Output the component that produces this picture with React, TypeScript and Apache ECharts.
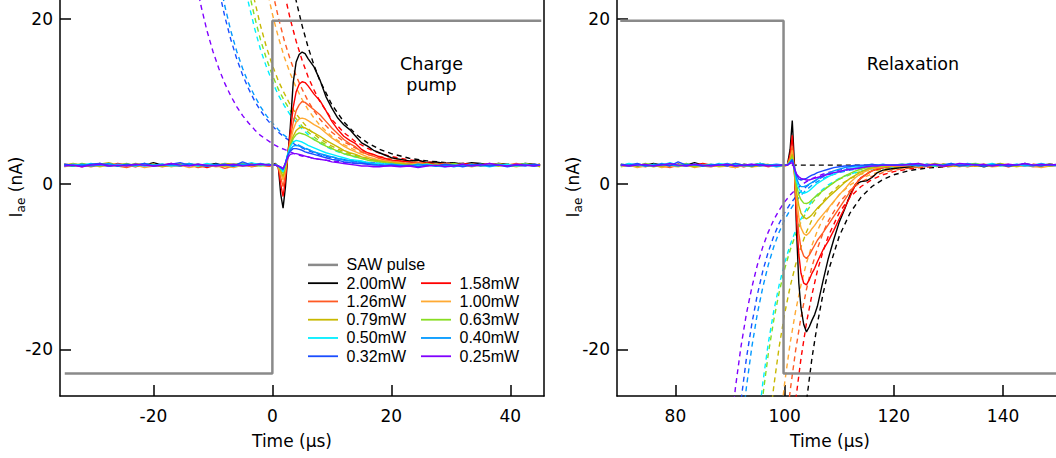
import React, { useEffect, useRef } from 'react';
import * as echarts from 'echarts';

const FONT_AXIS = "'DejaVu Sans', sans-serif";
const FONT_LEGEND = "'Liberation Sans', Arial, sans-serif";

const powers = ['2.00mW', '1.58mW', '1.26mW', '1.00mW', '0.79mW', '0.63mW', '0.50mW', '0.40mW', '0.32mW', '0.25mW'];
const colors = ['#000000', '#ff0000', '#ff5a24', '#ffaa33', '#c8b800', '#88dd22', '#00eeff', '#0099ff', '#1a4dff', '#8000ff'];

const pumpTicks = [-20, 0, 20, 40];
const relaxTicks = [80, 100, 120, 140];
const yTicks = [-20, 0, 20];

// ---------- Charge pump panel: measured traces ----------
const tPump = [
  -35, -33.5, -32, -30.5, -29, -27.5, -26, -24.5, -23, -21.5, -20, -18.5, -17, -15.5, -14, -12.5, -11, -9.5, -8, -6.5, -5, -3.5, -2, -0.5,
  0, 0.5, 1, 1.4, 1.8, 2.2, 2.6, 3, 3.5, 4, 4.5, 5, 5.5, 6, 7, 8, 9, 10, 11, 12, 13, 14, 15, 16, 17, 18, 19, 20,
  21.5, 23, 24.5, 26, 27.5, 29, 30.5, 32, 33.5, 35, 36.5, 38, 39.5, 41, 42.5, 44, 45,
];
const pump200 = [
  2.3, 2.2, 2.4, 2.3, 2.5, 2.2, 2.3, 2.4, 2.2, 2.3, 2.6, 2.3, 2.2, 2.4, 2.3, 2.1, 2.3, 2.5, 2.2, 2.3, 2.4, 2.2, 2.3, 2.4,
  2.3, 2.5, 2.1, -1.2, -2.9, -0.3, 3.5, 6.8, 12.3, 14.8, 15.7, 16.0, 15.8, 15.2, 14.2, 12.6, 10.6, 9.2, 8.0, 7.2, 6.6, 5.8, 5.0, 4.6, 4.1, 3.8, 3.5, 3.2,
  3.0, 2.8, 2.9, 2.6, 2.7, 2.5, 2.6, 2.4, 2.6, 2.5, 2.3, 2.5, 2.4, 2.3, 2.5, 2.4, 2.3,
];
const pump158 = [
  2.4, 2.3, 2.1, 2.4, 2.3, 2.2, 2.5, 2.3, 2.1, 2.4, 2.2, 2.3, 2.5, 2.2, 2.4, 2.3, 2.0, 2.3, 2.4, 2.2, 2.3, 2.5, 2.3, 2.2,
  2.3, 2.4, 2.0, 0.0, -1.5, 0.6, 3.6, 6.2, 9.3, 11.2, 12.1, 12.4, 12.3, 11.9, 10.9, 10.1, 8.9, 7.6, 6.6, 5.8, 5.3, 4.9, 4.2, 3.8, 3.6, 3.3, 3.1, 2.9,
  2.8, 2.7, 2.5, 2.6, 2.4, 2.5, 2.3, 2.5, 2.4, 2.3, 2.5, 2.3, 2.4, 2.2, 2.4, 2.3, 2.4,
];
const pump126 = [
  2.2, 2.4, 2.3, 2.1, 2.3, 2.4, 2.2, 2.0, 2.3, 2.5, 2.3, 2.1, 2.3, 2.2, 2.4, 2.0, 2.2, 2.3, 1.9, 2.2, 2.4, 2.1, 2.3, 2.2,
  2.3, 2.4, 2.1, 0.8, -0.3, 1.2, 3.5, 5.4, 7.5, 8.9, 9.6, 10.0, 9.9, 9.6, 9.0, 8.4, 7.6, 6.8, 6.1, 5.4, 4.9, 4.5, 3.9, 3.6, 3.4, 3.1, 2.9, 2.8,
  2.6, 2.5, 2.6, 2.4, 2.3, 2.5, 2.4, 2.2, 2.4, 2.3, 2.2, 2.4, 2.3, 2.5, 2.3, 2.2, 2.3,
];
const pump100 = [
  2.1, 2.3, 2.2, 2.4, 2.1, 2.3, 2.2, 2.4, 2.3, 2.0, 2.2, 2.4, 2.1, 2.3, 2.0, 2.2, 2.3, 2.1, 2.2, 2.0, 2.3, 2.2, 2.4, 2.3,
  2.3, 2.4, 2.1, 1.3, 0.5, 1.7, 3.6, 5.0, 6.6, 7.5, 7.9, 8.0, 7.9, 7.7, 7.2, 6.8, 6.2, 5.6, 5.1, 4.6, 4.2, 3.9, 3.6, 3.3, 3.1, 2.9, 2.8, 2.7,
  2.6, 2.4, 2.5, 2.3, 2.4, 2.2, 2.4, 2.3, 2.1, 2.3, 2.4, 2.2, 2.3, 2.1, 2.3, 2.4, 2.2,
];
const pump079 = [
  2.3, 2.5, 2.3, 2.2, 2.4, 2.6, 2.3, 2.2, 2.5, 2.3, 2.4, 2.2, 2.3, 2.5, 2.3, 2.4, 2.2, 2.3, 2.5, 2.4, 2.2, 2.3, 2.4, 2.3,
  2.3, 2.4, 2.2, 1.6, 0.9, 2.0, 3.6, 4.7, 5.8, 6.5, 6.8, 6.9, 6.8, 6.6, 6.2, 5.8, 5.3, 4.9, 4.5, 4.1, 3.8, 3.6, 3.3, 3.1, 2.9, 2.8, 2.7, 2.6,
  2.5, 2.4, 2.3, 2.5, 2.3, 2.4, 2.2, 2.3, 2.4, 2.2, 2.3, 2.5, 2.3, 2.2, 2.4, 2.3, 2.1,
];
const pump063 = [
  2.4, 2.2, 2.5, 2.3, 2.2, 2.4, 2.3, 2.5, 2.2, 2.4, 2.3, 2.2, 2.4, 2.3, 2.5, 2.2, 2.4, 2.3, 2.2, 2.4, 2.5, 2.3, 2.2, 2.3,
  2.4, 2.3, 2.2, 1.8, 1.3, 2.3, 3.7, 4.6, 5.5, 6.0, 6.2, 6.1, 6.0, 5.8, 5.4, 5.0, 4.6, 4.3, 4.0, 3.7, 3.5, 3.3, 3.1, 2.9, 2.8, 2.7, 2.6, 2.5,
  2.4, 2.3, 2.4, 2.2, 2.4, 2.3, 2.5, 2.3, 2.2, 2.4, 2.3, 2.2, 2.4, 2.3, 2.5, 2.3, 2.4,
];
const pump050 = [
  2.2, 2.4, 2.3, 2.5, 2.3, 2.2, 2.4, 2.3, 2.2, 2.5, 2.3, 2.4, 2.2, 2.3, 2.4, 2.2, 2.5, 2.3, 2.4, 2.2, 2.3, 2.6, 2.3, 2.4,
  2.3, 2.4, 2.2, 1.9, 1.5, 2.5, 3.7, 4.5, 5.1, 5.3, 5.2, 5.1, 4.9, 4.7, 4.4, 4.1, 3.8, 3.6, 3.4, 3.2, 3.0, 2.9, 2.8, 2.6, 2.5, 2.5, 2.4, 2.4,
  2.3, 2.2, 2.3, 2.4, 2.2, 2.1, 2.3, 2.4, 2.2, 2.3, 2.1, 2.3, 2.4, 2.2, 2.3, 2.2, 2.3,
];
const pump040 = [
  2.3, 2.2, 2.4, 2.2, 2.3, 2.5, 2.2, 2.3, 2.4, 2.2, 2.3, 2.4, 2.3, 2.2, 2.5, 2.3, 2.2, 2.4, 2.3, 2.2, 2.4, 2.3, 2.5, 2.3,
  2.3, 2.3, 2.2, 2.0, 1.7, 2.6, 3.6, 4.2, 4.6, 4.7, 4.6, 4.5, 4.3, 4.2, 3.9, 3.7, 3.5, 3.3, 3.1, 2.9, 2.8, 2.7, 2.6, 2.5, 2.4, 2.3, 2.3, 2.4,
  2.3, 2.2, 2.4, 2.3, 2.2, 2.3, 2.1, 2.3, 2.4, 2.2, 2.3, 2.4, 2.2, 2.3, 2.4, 2.2, 2.3,
];
const pump032 = [
  2.4, 2.3, 2.2, 2.4, 2.5, 2.3, 2.2, 2.4, 2.3, 2.5, 2.2, 2.3, 2.4, 2.6, 2.3, 2.4, 2.2, 2.3, 2.4, 2.2, 2.7, 2.3, 2.4, 2.3,
  2.4, 2.3, 2.2, 2.0, 1.8, 2.6, 3.5, 4.0, 4.3, 4.3, 4.2, 4.1, 3.9, 3.8, 3.6, 3.4, 3.2, 3.0, 2.9, 2.7, 2.6, 2.5, 2.5, 2.4, 2.3, 2.3, 2.2, 2.3,
  2.2, 2.3, 2.1, 2.3, 2.2, 2.4, 2.3, 2.1, 2.3, 2.4, 2.2, 2.3, 2.1, 2.3, 2.2, 2.4, 2.3,
];
const pump025 = [
  2.2, 2.3, 2.1, 2.3, 2.4, 2.2, 2.3, 2.2, 2.4, 2.3, 2.2, 2.3, 2.5, 2.3, 2.2, 2.4, 2.3, 2.2, 2.3, 2.4, 2.2, 2.3, 2.4, 2.3,
  2.3, 2.3, 2.2, 2.1, 1.9, 2.5, 3.2, 3.6, 3.7, 3.7, 3.6, 3.5, 3.4, 3.3, 3.1, 3.0, 2.9, 2.7, 2.6, 2.5, 2.4, 2.3, 2.2, 2.2, 2.1, 2.1, 2.2, 2.2,
  2.1, 2.2, 2.0, 2.2, 2.3, 2.1, 2.2, 2.4, 2.2, 2.3, 2.5, 2.3, 2.2, 2.4, 2.3, 2.2, 2.3,
];

// ---------- Charge pump panel: fits (dashed) ----------
const tPumpFit = [-14, -13, -12, -11, -10, -9, -8, -7, -6, -5, -4, -3, -2, -1, 0, 1, 2, 3, 4, 5, 6, 7, 8, 10, 12, 14, 16, 18, 20, 23, 26, 30, 35, 40, 45];
const pumpFit200 = [null, null, null, null, null, null, null, null, null, null, null, null, null, null, null, null, 30.1, 25.8, 22.2, 19.2, 16.6, 14.4, 12.5, 9.63, 7.55, 6.06, 5.0, 4.23, 3.69, 3.14, 2.81, 2.56, 2.41, 2.35, 2.32];
const pumpFit158 = [null, null, null, null, null, null, null, null, null, null, null, null, null, null, 31.5, 27.0, 23.2, 20.0, 17.3, 15.0, 13.0, 11.4, 10.0, 7.82, 6.25, 5.13, 4.33, 3.75, 3.34, 2.93, 2.68, 2.5, 2.38, 2.34, 2.32];
const pumpFit126 = [null, null, null, null, null, null, null, null, null, null, null, null, 31.8, 27.2, 23.4, 20.2, 17.4, 15.1, 13.1, 11.5, 10.06, 8.87, 7.86, 6.29, 5.15, 4.35, 3.77, 3.35, 3.05, 2.76, 2.58, 2.44, 2.36, 2.33, 2.31];
const pumpFit100 = [null, null, null, null, null, null, null, null, null, null, null, 32.5, 27.8, 23.9, 20.6, 17.8, 15.4, 13.4, 11.7, 10.25, 9.03, 8.0, 7.12, 5.76, 4.78, 4.08, 3.57, 3.21, 2.95, 2.7, 2.54, 2.42, 2.35, 2.32, 2.31];
const pumpFit079 = [null, null, null, null, null, null, null, null, null, 30.1, 25.9, 22.25, 19.2, 16.6, 14.4, 12.5, 11.0, 9.6, 8.5, 7.6, 6.75, 6.07, 5.49, 4.59, 3.94, 3.47, 3.14, 2.9, 2.73, 2.56, 2.46, 2.38, 2.34, 2.32, 2.31];
const pumpFit063 = [null, null, null, null, null, null, null, null, 31.9, 27.4, 23.5, 20.3, 17.5, 15.2, 13.2, 11.5, 10.1, 8.9, 7.9, 7.0, 6.3, 5.7, 5.2, 4.36, 3.77, 3.36, 3.06, 2.84, 2.69, 2.54, 2.44, 2.37, 2.33, 2.31, 2.31];
const pumpFit050 = [null, null, null, null, null, null, null, null, 29.6, 25.4, 21.9, 18.9, 16.3, 14.2, 12.4, 10.8, 9.5, 8.4, 7.5, 6.7, 6.0, 5.4, 4.95, 4.2, 3.66, 3.28, 3.0, 2.8, 2.66, 2.52, 2.43, 2.37, 2.33, 2.31, 2.31];
const pumpFit040 = [null, null, null, null, 29.2, 25.1, 21.6, 18.6, 16.1, 14.0, 12.2, 10.7, 9.4, 8.3, 7.4, 6.6, 5.9, 5.4, 4.9, 4.5, 4.2, 3.9, 3.6, 3.3, 3.0, 2.8, 2.65, 2.55, 2.48, 2.41, 2.37, 2.33, 2.31, 2.3, 2.3];
const pumpFit032 = [null, null, null, null, 27.4, 23.6, 20.3, 17.55, 15.2, 13.2, 11.55, 10.1, 8.9, 7.9, 7.05, 6.3, 5.7, 5.2, 4.7, 4.4, 4.05, 3.8, 3.55, 3.2, 2.95, 2.76, 2.63, 2.54, 2.47, 2.4, 2.36, 2.33, 2.31, 2.3, 2.3];
const pumpFit025 = [29.2, 25.1, 21.6, 18.6, 16.1, 14.0, 12.2, 10.7, 9.4, 8.3, 7.4, 6.6, 5.9, 5.4, 4.9, 4.5, 4.2, 3.9, 3.6, 3.4, 3.3, 3.1, 3.0, 2.8, 2.65, 2.55, 2.48, 2.43, 2.39, 2.36, 2.33, 2.32, 2.31, 2.3, 2.3];

// ---------- Relaxation panel: measured traces ----------
const tRelax = [
  70, 71.5, 73, 74.5, 76, 77.5, 79, 80.5, 82, 83.5, 85, 86.5, 88, 89.5, 91, 92.5, 94, 95.5, 97, 98.5, 100,
  100.5, 101, 101.4, 101.8, 102.2, 102.6, 103, 103.5, 104, 104.5, 105, 105.5, 106, 107, 108, 109, 110, 111, 112, 113, 114, 115, 116, 117, 118, 119, 120,
  121.5, 123, 124.5, 126, 127.5, 129, 130.5, 132, 133.5, 135, 136.5, 138, 139.5, 141, 142.5, 144, 145.5, 147, 148.5, 150,
];
const relax200 = [
  2.3, 2.4, 2.2, 2.3, 2.5, 2.3, 2.2, 2.4, 2.3, 2.6, 2.3, 2.2, 2.4, 2.3, 2.2, 2.4, 2.3, 2.5, 2.3, 2.2, 2.3,
  2.3, 4.2, 7.7, 2.4, -6.0, -12.0, -15.0, -17.0, -17.9, -17.3, -16.5, -15.8, -14.8, -11.8, -9.0, -6.7, -4.6, -3.0, -1.3, 0.0, 0.3, 0.4, 0.8, 1.4, 1.7, 1.8, 1.9,
  2.0, 2.1, 2.2, 2.3, 2.2, 2.4, 2.3, 2.2, 2.4, 2.3, 2.1, 2.3, 2.4, 2.2, 2.3, 2.4, 2.2, 2.3, 2.4, 2.3,
];
const relax158 = [
  2.2, 2.3, 2.4, 2.2, 2.3, 2.1, 2.3, 2.4, 2.2, 2.3, 2.5, 2.3, 2.2, 2.4, 2.3, 2.1, 2.3, 2.4, 2.2, 2.3, 2.3,
  2.3, 3.6, 5.9, 1.5, -4.5, -8.5, -10.8, -12.0, -12.2, -11.6, -10.8, -10.2, -9.4, -8.0, -6.9, -5.6, -4.2, -2.9, -1.5, 0.0, 0.8, 1.2, 1.6, 1.8, 2.0, 2.1, 2.2,
  2.2, 2.3, 2.2, 2.4, 2.3, 2.1, 2.3, 2.4, 2.2, 2.3, 2.2, 2.4, 2.3, 2.1, 2.3, 2.2, 2.4, 2.3, 2.2, 2.3,
];
const relax126 = [
  2.4, 2.2, 2.3, 2.1, 2.4, 2.2, 2.0, 2.3, 2.2, 2.4, 2.2, 2.1, 2.3, 2.2, 2.0, 2.3, 2.2, 2.4, 2.1, 2.3, 2.2,
  2.3, 3.2, 4.6, 1.3, -3.0, -6.0, -7.8, -8.7, -9.0, -8.6, -8.0, -7.4, -6.8, -5.9, -4.9, -3.9, -2.9, -1.9, -0.9, 0.0, 0.7, 1.2, 1.6, 1.9, 2.0, 2.1, 2.2,
  2.3, 2.2, 2.4, 2.2, 2.3, 2.4, 2.2, 2.3, 2.1, 2.3, 2.4, 2.2, 2.3, 2.4, 2.2, 2.3, 2.1, 2.2, 2.4, 2.3,
];
const relax100 = [
  2.1, 2.3, 2.0, 2.2, 2.3, 2.0, 2.2, 2.1, 2.3, 2.0, 2.2, 2.3, 2.1, 2.2, 2.0, 2.3, 2.1, 2.2, 2.3, 2.1, 2.2,
  2.3, 3.0, 4.1, 1.4, -1.8, -4.0, -5.3, -6.0, -6.2, -5.9, -5.4, -5.0, -4.5, -3.7, -2.9, -2.1, -1.3, -0.6, 0.2, 0.8, 1.3, 1.6, 1.9, 2.0, 2.1, 2.2, 2.2,
  2.2, 2.3, 2.1, 2.3, 2.2, 2.4, 2.3, 2.1, 2.3, 2.2, 2.3, 2.1, 2.2, 2.3, 2.1, 2.3, 2.2, 2.0, 2.2, 2.3,
];
const relax079 = [
  2.3, 2.2, 2.4, 2.3, 2.1, 2.3, 2.4, 2.2, 2.3, 2.1, 2.4, 2.2, 2.3, 2.4, 2.2, 2.3, 2.1, 2.3, 2.4, 2.2, 2.3,
  2.3, 2.9, 3.6, 1.4, -1.0, -2.6, -3.5, -4.0, -4.2, -4.0, -3.7, -3.3, -2.9, -2.3, -1.6, -1.0, -0.4, 0.2, 0.7, 1.1, 1.5, 1.8, 2.0, 2.1, 2.2, 2.2, 2.3,
  2.3, 2.4, 2.2, 2.3, 2.5, 2.3, 2.2, 2.4, 2.3, 2.2, 2.4, 2.3, 2.5, 2.3, 2.2, 2.4, 2.3, 2.2, 2.4, 2.3,
];
const relax063 = [
  2.4, 2.3, 2.2, 2.5, 2.3, 2.2, 2.4, 2.3, 2.5, 2.2, 2.3, 2.4, 2.2, 2.3, 2.5, 2.3, 2.2, 2.4, 2.3, 2.2, 2.3,
  2.3, 2.8, 3.3, 1.6, -0.2, -1.3, -1.9, -2.3, -2.35, -2.2, -1.9, -1.6, -1.3, -0.8, -0.3, 0.2, 0.6, 1.0, 1.3, 1.6, 1.8, 2.0, 2.1, 2.2, 2.2, 2.3, 2.3,
  2.4, 2.3, 2.5, 2.3, 2.2, 2.4, 2.3, 2.2, 2.4, 2.5, 2.3, 2.2, 2.4, 2.3, 2.2, 2.5, 2.3, 2.4, 2.2, 2.3,
];
const relax050 = [
  2.2, 2.5, 2.3, 2.2, 2.4, 2.3, 2.6, 2.3, 2.2, 2.4, 2.3, 2.2, 2.5, 2.3, 2.4, 2.2, 2.3, 2.5, 2.3, 2.1, 2.3,
  2.3, 2.7, 3.0, 1.7, 0.3, -0.5, -1.0, -1.1, -1.0, -0.8, -0.5, -0.2, 0.1, 0.5, 0.9, 1.2, 1.5, 1.7, 1.9, 2.0, 2.1, 2.2, 2.2, 2.3, 2.3, 2.3, 2.3,
  2.3, 2.5, 2.3, 2.4, 2.2, 2.3, 2.5, 2.3, 2.2, 2.4, 2.3, 2.5, 2.2, 2.3, 2.4, 2.2, 2.3, 2.5, 2.3, 2.4,
];
const relax040 = [
  2.3, 2.2, 2.4, 2.3, 2.2, 2.5, 2.3, 2.2, 2.4, 2.3, 2.2, 2.4, 2.3, 2.5, 2.2, 2.3, 2.4, 2.2, 2.3, 2.4, 2.3,
  2.3, 2.6, 2.9, 1.8, 0.7, 0.0, -0.3, -0.3, -0.2, 0.0, 0.2, 0.4, 0.6, 1.0, 1.3, 1.6, 1.8, 2.0, 2.1, 2.2, 2.2, 2.3, 2.3, 2.3, 2.4, 2.3, 2.3,
  2.4, 2.3, 2.2, 2.4, 2.3, 2.2, 2.4, 2.3, 2.5, 2.3, 2.2, 2.4, 2.3, 2.2, 2.4, 2.3, 2.2, 2.4, 2.3, 2.2,
];
const relax032 = [
  2.4, 2.3, 2.5, 2.2, 2.3, 2.4, 2.2, 2.7, 2.3, 2.4, 2.2, 2.3, 2.4, 2.2, 2.5, 2.3, 2.2, 2.4, 2.3, 2.2, 2.3,
  2.3, 2.6, 3.0, 2.0, 1.1, 0.6, 0.5, 0.6, 0.7, 0.9, 1.1, 1.2, 1.4, 1.6, 1.8, 2.0, 2.1, 2.2, 2.2, 2.3, 2.3, 2.3, 2.4, 2.3, 2.3, 2.3, 2.3,
  2.3, 2.4, 2.3, 2.2, 2.4, 2.3, 2.5, 2.2, 2.3, 2.4, 2.2, 2.3, 2.4, 2.2, 2.3, 2.5, 2.3, 2.2, 2.4, 2.3,
];
const relax025 = [
  2.3, 2.2, 2.3, 2.4, 2.2, 2.3, 2.5, 2.3, 2.2, 2.4, 2.3, 2.2, 2.3, 2.4, 2.2, 2.3, 2.4, 2.3, 2.2, 2.3, 2.3,
  2.3, 2.5, 2.6, 1.8, 1.2, 0.9, 0.7, 0.6, 0.5, 0.5, 0.6, 0.7, 0.8, 1.0, 1.2, 1.4, 1.5, 1.7, 1.8, 1.9, 2.0, 2.1, 2.2, 2.2, 2.3, 2.3, 2.3,
  2.3, 2.4, 2.5, 2.3, 2.4, 2.2, 2.3, 2.5, 2.4, 2.3, 2.4, 2.2, 2.3, 2.4, 2.3, 2.5, 2.3, 2.4, 2.3, 2.4,
];

// ---------- Relaxation panel: fits (dashed) ----------
const tRelaxFit = [88, 89, 90, 91, 92, 93, 94, 95, 96, 97, 98, 99, 100, 101, 102, 103, 104, 105, 106, 107, 108, 110, 112, 114, 116, 118, 120, 123, 126, 130, 135, 140, 145, 150];
const relaxFit200 = [null, null, null, null, null, null, null, null, null, null, null, null, null, null, null, -32.6, -26.3, -21.1, -16.9, -13.4, -10.54, -6.31, -3.47, -1.57, -0.29, 0.56, 1.14, 1.66, 1.95, 2.14, 2.24, 2.28, 2.29, 2.3];
const relaxFit158 = [null, null, null, null, null, null, null, null, null, null, null, null, null, -32.6, -26.3, -21.1, -16.8, -13.4, -10.5, -8.2, -6.3, -3.46, -1.56, -0.29, 0.56, 1.14, 1.52, 1.87, 2.07, 2.19, 2.26, 2.29, 2.3, 2.3];
const relaxFit126 = [null, null, null, null, null, null, null, null, null, null, null, null, -31.2, -25.1, -20.2, -16.1, -12.75, -10.0, -7.8, -5.96, -4.46, -2.23, -0.74, 0.26, 0.93, 1.39, 1.69, 1.96, 2.12, 2.22, 2.27, 2.29, 2.3, 2.3];
const relaxFit100 = [null, null, null, null, null, null, null, null, null, null, null, -29.9, -24.1, -19.3, -15.4, -12.2, -9.56, -7.41, -5.65, -4.21, -3.03, -1.27, -0.09, 0.69, 1.22, 1.58, 1.82, 2.03, 2.15, 2.23, 2.28, 2.29, 2.3, 2.3];
const relaxFit079 = [null, null, null, null, null, null, null, null, null, -30.5, -24.55, -19.7, -15.7, -12.44, -9.77, -7.58, -5.79, -4.32, -3.12, -2.14, -1.33, -0.14, 0.67, 1.21, 1.57, 1.81, 1.97, 2.12, 2.2, 2.26, 2.28, 2.29, 2.3, 2.3];
const relaxFit063 = [null, null, null, null, null, null, null, -31.9, -25.7, -20.6, -16.5, -13.1, -10.28, -8.0, -6.13, -4.6, -3.35, -2.33, -1.49, -0.8, -0.24, 0.6, 1.16, 1.54, 1.79, 1.96, 2.07, 2.17, 2.23, 2.27, 2.29, 2.3, 2.3, 2.3];
const relaxFit050 = [null, null, null, null, null, null, null, -29.9, -24.1, -19.3, -15.4, -12.2, -9.55, -7.4, -5.64, -4.2, -3.02, -2.06, -1.27, -0.62, -0.09, 0.7, 1.23, 1.58, 1.82, 1.98, 2.08, 2.18, 2.23, 2.27, 2.29, 2.3, 2.3, 2.3];
const relaxFit040 = [null, null, null, null, -30.5, -24.6, -19.7, -15.7, -12.5, -9.8, -7.6, -5.8, -4.33, -3.13, -2.14, -1.34, -0.68, -0.14, 0.3, 0.66, 0.96, 1.4, 1.7, 1.9, 2.03, 2.12, 2.18, 2.23, 2.26, 2.28, 2.29, 2.3, 2.3, 2.3];
const relaxFit032 = [null, null, null, -32.6, -26.3, -21.1, -16.9, -13.4, -10.54, -8.21, -6.31, -4.75, -3.47, -2.42, -1.57, -0.87, -0.29, 0.18, 0.56, 0.88, 1.14, 1.52, 1.78, 1.95, 2.06, 2.14, 2.19, 2.24, 2.27, 2.29, 2.3, 2.3, 2.3, 2.3];
const relaxFit025 = [null, null, -30.6, -24.6, -19.7, -15.7, -12.5, -9.8, -7.6, -5.81, -4.34, -3.14, -2.15, -1.34, -0.68, -0.14, 0.3, 0.66, 0.96, 1.2, 1.4, 1.7, 1.9, 2.03, 2.12, 2.18, 2.22, 2.26, 2.28, 2.29, 2.3, 2.3, 2.3, 2.3];

const relaxBaselineT = [70, 150];
const relaxBaselineV = [2.3, 2.3];

// ---------- SAW pulse ----------
const sawPumpT = [-34.9, 0, 0, 45.2];
const sawPumpV = [-22.95, -22.95, 19.8, 19.8];
const sawRelaxT = [69.9, 99.8, 99.8, 150];
const sawRelaxV = [19.8, 19.8, -22.95, -22.95];

const pumpSolid = [pump200, pump158, pump126, pump100, pump079, pump063, pump050, pump040, pump032, pump025];
const pumpFits = [pumpFit200, pumpFit158, pumpFit126, pumpFit100, pumpFit079, pumpFit063, pumpFit050, pumpFit040, pumpFit032, pumpFit025];
const relaxSolid = [relax200, relax158, relax126, relax100, relax079, relax063, relax050, relax040, relax032, relax025];
const relaxFits = [relaxFit200, relaxFit158, relaxFit126, relaxFit100, relaxFit079, relaxFit063, relaxFit050, relaxFit040, relaxFit032, relaxFit025];

function zip(t: number[], v: (number | null)[]) {
  const out: number[][] = [];
  for (let i = 0; i < t.length; i++) {
    const y = v[i];
    if (y !== null && y !== undefined) out.push([t[i], y]);
  }
  return out;
}

function xAxisCfg(gridIndex: number, min: number, max: number, ticks: number[]) {
  return {
    gridIndex, type: 'value', min, max,
    axisLine: { show: true, onZero: false, lineStyle: { color: '#000', width: 1.5 } },
    axisTick: { show: true, inside: true, length: 11, lineStyle: { color: '#000', width: 1.5 }, customValues: ticks },
    axisLabel: { show: true, customValues: ticks, color: '#000', fontSize: 17, fontFamily: FONT_AXIS, margin: 11 },
    splitLine: { show: false },
  };
}
function yAxisCfg(gridIndex: number, position: string, labels: boolean) {
  return {
    gridIndex, type: 'value', min: -25.66, max: 22.3, position,
    axisLine: { show: true, onZero: false, lineStyle: { color: '#000', width: 1.5 } },
    axisTick: labels ? { show: true, inside: true, length: 11, lineStyle: { color: '#000', width: 1.5 }, customValues: yTicks } : { show: false },
    axisLabel: labels ? { show: true, customValues: yTicks, color: '#000', fontSize: 17, fontFamily: FONT_AXIS, margin: 7 } : { show: false },
    splitLine: { show: false },
  };
}

export default function App() {
  const ref = useRef<HTMLDivElement>(null);
  useEffect(() => {
    const chart = echarts.init(ref.current!, null, { renderer: 'svg' });
    const series: any[] = [];
    const dashed = [5, 4];
    // dashed fits
    pumpFits.forEach((f, i) => series.push({
      type: 'line', name: powers[i] + ' fit', xAxisIndex: 0, yAxisIndex: 0,
      data: zip(tPumpFit, f), showSymbol: false, symbol: 'none', silent: true,
      lineStyle: { color: colors[i], width: 1.4, type: dashed },
    }));
    relaxFits.forEach((f, i) => series.push({
      type: 'line', name: powers[i] + ' fit', xAxisIndex: 1, yAxisIndex: 2,
      data: zip(tRelaxFit, f), showSymbol: false, symbol: 'none', silent: true,
      lineStyle: { color: colors[i], width: 1.4, type: dashed },
    }));
    series.push({
      type: 'line', name: 'baseline', xAxisIndex: 1, yAxisIndex: 2,
      data: zip(relaxBaselineT, relaxBaselineV), showSymbol: false, symbol: 'none', silent: true,
      lineStyle: { color: '#000', width: 1.4, type: dashed },
    });
    // measured traces
    pumpSolid.forEach((v, i) => series.push({
      type: 'line', name: powers[i], xAxisIndex: 0, yAxisIndex: 0,
      data: zip(tPump, v), showSymbol: false, symbol: 'none', silent: true,
      lineStyle: { color: colors[i], width: 1.4 },
    }));
    relaxSolid.forEach((v, i) => series.push({
      type: 'line', name: powers[i], xAxisIndex: 1, yAxisIndex: 2,
      data: zip(tRelax, v), showSymbol: false, symbol: 'none', silent: true,
      lineStyle: { color: colors[i], width: 1.4 },
    }));
    // SAW pulse
    series.push({
      type: 'line', name: 'SAW pulse', xAxisIndex: 0, yAxisIndex: 0,
      data: zip(sawPumpT, sawPumpV), showSymbol: false, symbol: 'none', silent: true,
      lineStyle: { color: '#8a8a8a', width: 2.5 },
    });
    series.push({
      type: 'line', name: 'SAW pulse', xAxisIndex: 1, yAxisIndex: 2,
      data: zip(sawRelaxT, sawRelaxV), showSymbol: false, symbol: 'none', silent: true,
      lineStyle: { color: '#8a8a8a', width: 2.5 },
    });

    const txt = (text: string, x: number, y: number, size: number, family: string, extra: any = {}) => ({
      type: 'text', x, y, silent: true, ...extra,
      style: {
        text, fill: '#000', fontSize: size, fontFamily: family,
        align: extra.align || 'center', verticalAlign: 'middle',
        textAlign: extra.align || 'center', textVerticalAlign: 'middle',
      },
    });

    const yName = (x: number) => ({
      type: 'text', x, y: 187, rotation: Math.PI / 2, silent: true,
      style: {
        text: '{a|I}{b|ae}{a| (nA)}',
        align: 'center', verticalAlign: 'middle', textAlign: 'center', textVerticalAlign: 'middle',
        rich: {
          a: { fontSize: 17, fontFamily: FONT_AXIS, fill: '#000', lineHeight: 22 },
          b: { fontSize: 12, fontFamily: FONT_AXIS, fill: '#000', lineHeight: 12, verticalAlign: 'bottom' },
        },
      },
    });

    const legendEls: any[] = [];
    const rowY0 = 264.9;
    const rowH = 18.27;
    legendEls.push({ type: 'line', silent: true, shape: { x1: 308, y1: rowY0, x2: 338, y2: rowY0 }, style: { stroke: '#8a8a8a', lineWidth: 2.5 } });
    legendEls.push(txt('SAW pulse', 346.5, rowY0, 16, FONT_LEGEND, { align: 'left' }));
    powers.forEach((p, i) => {
      const row = 1 + Math.floor(i / 2);
      const col = i % 2;
      const y = rowY0 + rowH * row;
      const x0 = col === 0 ? 308 : 421;
      legendEls.push({ type: 'line', silent: true, shape: { x1: x0, y1: y, x2: x0 + 30, y2: y }, style: { stroke: colors[i], lineWidth: 1.8 } });
      legendEls.push(txt(p, x0 + 38.5, y, 16, FONT_LEGEND, { align: 'left' }));
    });

    const option: any = {
      animation: false,
      backgroundColor: '#ffffff',
      grid: [
        { left: 60, top: 0, width: 484, height: 396, containLabel: false, outerBoundsMode: 'none' },
        { left: 617, top: 0, width: 439, height: 396, containLabel: false, outerBoundsMode: 'none' },
      ],
      xAxis: [xAxisCfg(0, -35.7, 45.66, pumpTicks), xAxisCfg(1, 69.3, 149.7, relaxTicks)],
      yAxis: [yAxisCfg(0, 'left', true), yAxisCfg(0, 'right', false), yAxisCfg(1, 'left', true)],
      series,
      graphic: {
        elements: [
          yName(16),
          yName(573),
          txt('Time (µs)', 292, 441, 17, FONT_AXIS),
          txt('Time (µs)', 830, 441, 17, FONT_AXIS),
          txt('Charge', 431.5, 64, 17.5, FONT_AXIS),
          txt('pump', 431.5, 84.5, 17.5, FONT_AXIS),
          txt('Relaxation', 913, 64, 17.5, FONT_AXIS),
          ...legendEls,
        ],
      },
    };
    chart.setOption(option);
    return () => chart.dispose();
  }, []);
  return <div ref={ref} style={{ position: 'fixed', left: 0, top: 0, width: 1056, height: 458, background: '#fff' }} />;
}
